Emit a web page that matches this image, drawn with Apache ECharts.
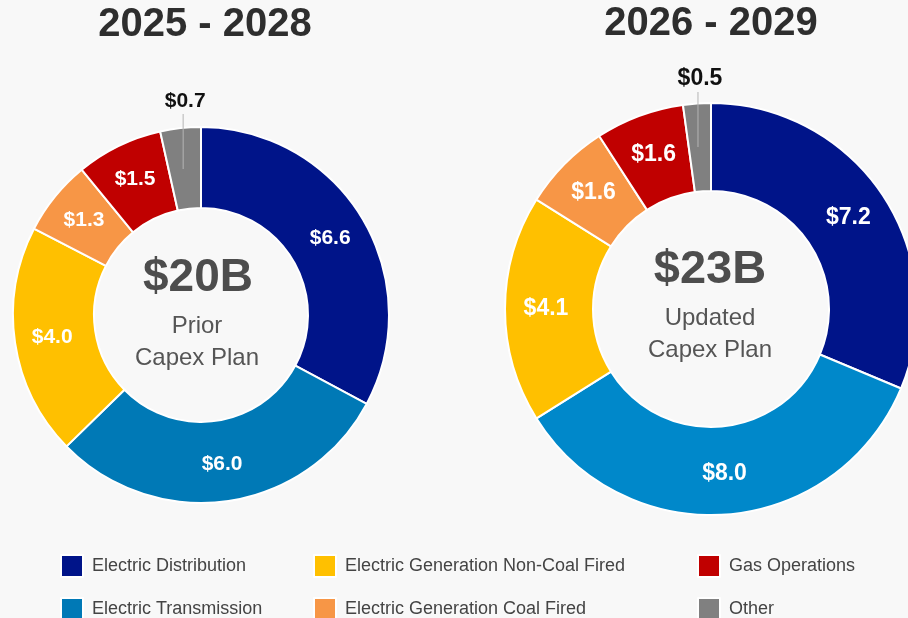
<!DOCTYPE html>
<html>
<head>
<meta charset="utf-8">
<title>Capex Plan</title>
<script src="https://cdn.jsdelivr.net/npm/echarts@6/dist/echarts.min.js"></script>
<style>
  html, body { margin: 0; padding: 0; background: #f8f8f8; }
  #main { width: 908px; height: 618px; }
</style>
</head>
<body>
<div id="main"></div>
<script>
// capex split by segment, $B
var categories = [
  "Electric Distribution",
  "Electric Transmission",
  "Electric Generation Non-Coal Fired",
  "Electric Generation Coal Fired",
  "Gas Operations",
  "Other"
];
var priorValues = [6.6, 6.0, 4.0, 1.3, 1.5, 0.7];
var updatedValues = [7.2, 8.0, 4.1, 1.6, 1.6, 0.5];
var periods = ["2025 - 2028", "2026 - 2029"];
var totals = ["$20B", "$23B"];
var planNames = ["Prior\nCapex Plan", "Updated\nCapex Plan"];

var colorsPrior = ["#001489", "#0079b6", "#ffc000", "#f79646", "#c00000", "#808080"];
var colorsUpdated = ["#001489", "#0088ca", "#ffc000", "#f79646", "#c00000", "#808080"];

var FONT = "Liberation Sans, Arial, sans-serif";

function money(v) {
  return "$" + v.toFixed(1);
}

function ringData(values, colors) {
  return categories.map(function (name, i) {
    var item = { name: name, value: values[i], itemStyle: { color: colors[i] } };
    // the small slice gets its label outside
    if (i === categories.length - 1) item.label = { show: false };
    return item;
  });
}

function outsideData(values, fontSize) {
  return categories.map(function (name, i) {
    var item = { name: name, value: values[i] };
    if (i === categories.length - 1) {
      item.label = { show: true, fontSize: fontSize };
      item.labelLine = { show: true };
    }
    return item;
  });
}

function ring(values, colors, center, radius, fontSize) {
  return {
    type: "pie",
    center: center,
    radius: radius,
    startAngle: 90,
    avoidLabelOverlap: false,
    silent: true,
    z: 2,
    itemStyle: { borderColor: "#ffffff", borderWidth: 2 },
    label: {
      show: true,
      position: "inside",
      color: "#ffffff",
      fontWeight: "bold",
      fontSize: fontSize,
      fontFamily: FONT,
      formatter: function (p) { return money(p.value); }
    },
    labelLine: { show: false },
    emphasis: { disabled: true },
    data: ringData(values, colors)
  };
}

// transparent copy used only for the leader line + label of "Other"
function leader(values, center, r, fontSize) {
  return {
    type: "pie",
    center: center,
    radius: [0, r],
    startAngle: 90,
    silent: true,
    z: 4,
    avoidLabelOverlap: false,
    itemStyle: { color: "rgba(0,0,0,0)" },
    label: {
      show: false,
      position: "outside",
      color: "#111111",
      fontWeight: "bold",
      fontFamily: FONT,
      formatter: function (p) { return money(p.value); }
    },
    labelLine: {
      show: false,
      length: 10,
      length2: 0,
      lineStyle: { color: "#b4b4b4", width: 1 }
    },
    labelLayout: function (p) {
      var x = p.rect.x + p.rect.width / 2;
      return {
        x: x,
        y: p.rect.y - 57,
        align: "center",
        verticalAlign: "bottom",
        labelLinePoints: [[x - 2, p.rect.y - 55], [x - 2, p.rect.y - 25], [x - 2, p.rect.y]]
      };
    },
    emphasis: { disabled: true },
    data: outsideData(values, fontSize)
  };
}

var legendX = [60, 313, 697];

var option = {
  backgroundColor: "#f8f8f8",
  animation: false,
  legend: legendX.map(function (x, col) {
    return {
      orient: "vertical",
      left: x,
      top: 554,
      height: 70,
      padding: 0,
      itemGap: 19,
      itemWidth: 22,
      itemHeight: 22,
      icon: "rect",
      selectedMode: false,
      data: categories.slice(col * 2, col * 2 + 2).map(function (name) {
        var i = categories.indexOf(name);
        return { name: name, itemStyle: { color: colorsPrior[i] } };
      }),
      textStyle: {
        fontSize: 18,
        color: "#444444",
        fontFamily: FONT,
        padding: [0, 0, 0, 4]
      }
    };
  }),
  graphic: [
    {
      type: "text", x: 205, y: 25, silent: true,
      style: { text: periods[0], fontSize: 40, fontWeight: "bold", fontFamily: FONT, fill: "#2e2e2e", align: "center", verticalAlign: "middle" }
    },
    {
      type: "text", x: 711, y: 24, silent: true,
      style: { text: periods[1], fontSize: 40, fontWeight: "bold", fontFamily: FONT, fill: "#2e2e2e", align: "center", verticalAlign: "middle" }
    },
    {
      type: "text", x: 198, y: 278, silent: true,
      style: { text: totals[0], fontSize: 46, fontWeight: "bold", fontFamily: FONT, fill: "#4d4d4d", align: "center", verticalAlign: "middle" }
    },
    {
      type: "text", x: 197, y: 342, silent: true,
      style: { text: planNames[0], fontSize: 24, lineHeight: 32, fontFamily: FONT, fill: "#555555", align: "center", verticalAlign: "middle" }
    },
    {
      type: "text", x: 710, y: 270, silent: true,
      style: { text: totals[1], fontSize: 47, fontWeight: "bold", fontFamily: FONT, fill: "#4d4d4d", align: "center", verticalAlign: "middle" }
    },
    {
      type: "text", x: 710, y: 334, silent: true,
      style: { text: planNames[1], fontSize: 24, lineHeight: 32, fontFamily: FONT, fill: "#555555", align: "center", verticalAlign: "middle" }
    }
  ],
  series: [
    ring(priorValues, colorsPrior, [201, 315], [107, 188], 21),
    ring(updatedValues, colorsUpdated, [711, 309], [118, 206], 23),
    leader(priorValues, [201, 315], 146, 21),
    leader(updatedValues, [711, 309], 162, 23)
  ]
};

var myChart = echarts.init(document.getElementById("main"));
option && myChart.setOption(option);
</script>
</body>
</html>
